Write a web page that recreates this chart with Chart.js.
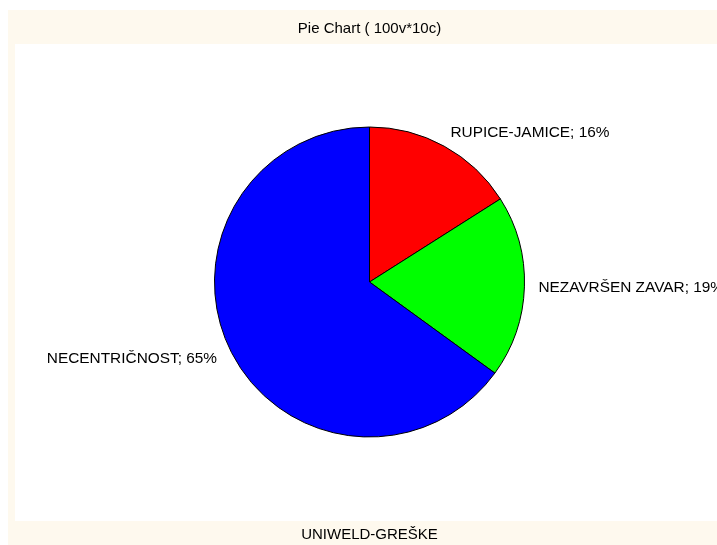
<!DOCTYPE html>
<html>
<head>
<meta charset="utf-8">
<script src="https://cdn.jsdelivr.net/npm/chart.js@4"></script>
<style>
html,body{margin:0;padding:0;background:#fff;}
canvas{display:block;}
</style>
</head>
<body>
<canvas id="c" width="717" height="545"></canvas>
<script>
const categories = ["RUPICE-JAMICE", "NEZAVRŠEN ZAVAR", "NECENTRIČNOST"];
const values = [16, 19, 65];
const sliceColors = ["#FF0000", "#00FF00", "#0000FF"];
const chartTitle = "Pie Chart ( 100v*10c)";
const chartSubtitle = "UNIWELD-GREŠKE";

const FONT = "'Liberation Sans', Arial, sans-serif";

const bgPlugin = {
  id: "bg",
  beforeDraw(chart) {
    const ctx = chart.ctx;
    ctx.save();
    ctx.fillStyle = "#FFFFFF";
    ctx.fillRect(0, 0, chart.width, chart.height);
    ctx.fillStyle = "#FEF9EE";
    ctx.fillRect(8, 10, chart.width - 8, chart.height - 10);
    ctx.fillStyle = "#FFFFFF";
    ctx.fillRect(15, 44, chart.width - 15, 521 - 44);
    ctx.restore();
  }
};

const labelPlugin = {
  id: "sliceLabels",
  afterDatasetsDraw(chart) {
    const ctx = chart.ctx;
    const meta = chart.getDatasetMeta(0);
    const data = chart.data.datasets[0].data;
    const total = data.reduce((a, b) => a + b, 0);
    ctx.save();
    ctx.font = "15.4px " + FONT;
    ctx.fillStyle = "#000";
    ctx.textBaseline = "middle";
    meta.data.forEach((arc, i) => {
      const p = arc.getProps(["x", "y", "startAngle", "endAngle", "outerRadius"], true);
      const mid = (p.startAngle + p.endAngle) / 2;
      const r = p.outerRadius + 15;
      const x = p.x + Math.cos(mid) * r;
      const y = p.y + Math.sin(mid) * r;
      ctx.textAlign = x >= p.x ? "left" : "right";
      const pct = Math.round(data[i] / total * 100);
      ctx.fillText(chart.data.labels[i] + "; " + pct + "%", x - (x >= p.x ? 1 : 1), y);
    });
    ctx.restore();
  }
};

new Chart(document.getElementById("c"), {
  type: "pie",
  data: {
    labels: categories,
    datasets: [{
      data: values,
      backgroundColor: sliceColors,
      borderColor: "#000000",
      borderWidth: 1,
      radius: 155
    }]
  },
  options: {
    responsive: false,
    animation: false,
    layout: { padding: { left: 22, right: 0, top: 0, bottom: 0 } },
    plugins: {
      legend: { display: false },
      tooltip: { enabled: false },
      title: {
        display: true,
        text: chartTitle,
        color: "#000",
        font: { family: FONT, size: 15, weight: "normal", lineHeight: 1.2 },
        padding: { top: 20, bottom: 0 }
      },
      subtitle: {
        display: true,
        text: chartSubtitle,
        position: "bottom",
        color: "#000",
        font: { family: FONT, size: 15, weight: "normal", lineHeight: 1.2 },
        padding: { top: 0, bottom: 1 }
      }
    }
  },
  plugins: [bgPlugin, labelPlugin]
});
</script>
</body>
</html>
